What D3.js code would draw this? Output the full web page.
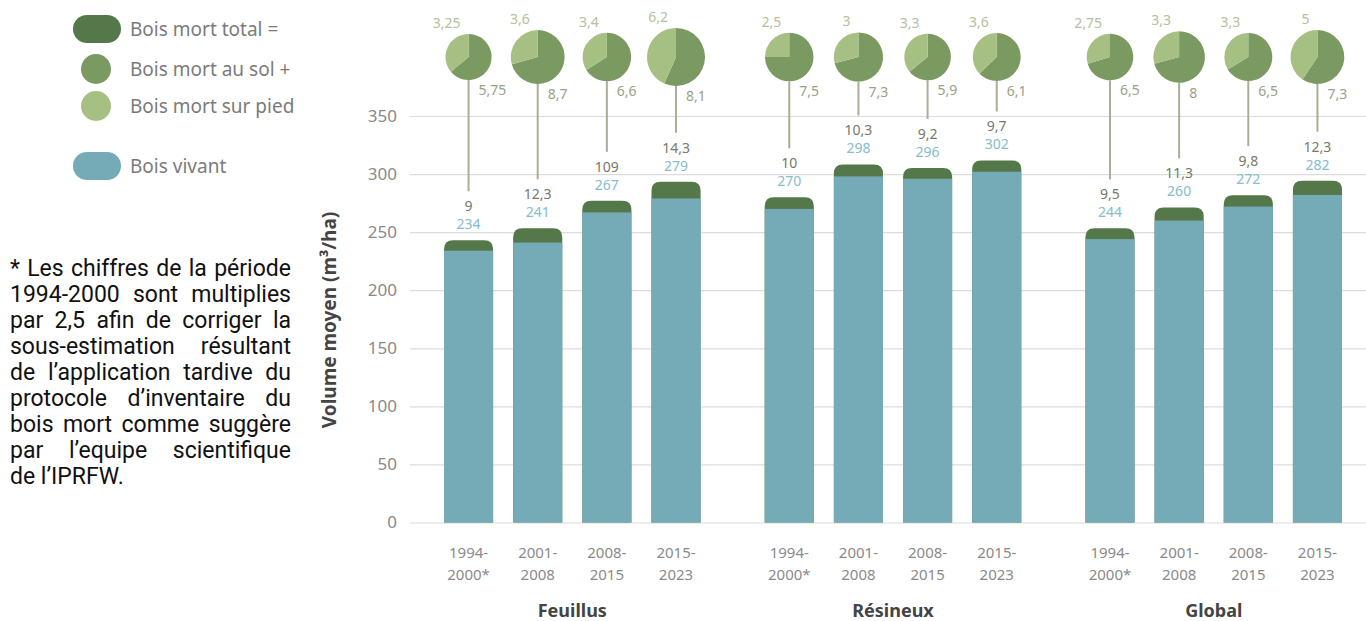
<!DOCTYPE html>
<html>
<head>
<meta charset="utf-8">
<script src="https://cdn.jsdelivr.net/npm/d3@7"></script>
<style>
  html, body { margin: 0; padding: 0; background: #fff; }
  svg { display: block; }
</style>
</head>
<body>
<svg id="chart" width="1366" height="621"></svg>
<script>
// ---- Data ----
const groups = ["Feuillus", "Résineux", "Global"];
const periodLine1 = ["1994-", "2001-", "2008-", "2015-"];
const periodLine2 = ["2000*", "2008", "2015", "2023"];

const feuillusVivant = [234, 241, 267, 279];
const resineuxVivant = [270, 298, 296, 302];
const globalVivant   = [244, 260, 272, 282];

const feuillusSurPied = [3.25, 3.6, 3.4, 6.2];
const resineuxSurPied = [2.5, 3, 3.3, 3.6];
const globalSurPied   = [2.75, 3.3, 3.3, 5];

const feuillusAuSol = [5.75, 8.7, 6.6, 8.1];
const resineuxAuSol = [7.5, 7.3, 5.9, 6.1];
const globalAuSol   = [6.5, 8, 6.5, 7.3];

const feuillusTotalLabels = ["9", "12,3", "109", "14,3"];
const resineuxTotalLabels = ["10", "10,3", "9,2", "9,7"];
const globalTotalLabels   = ["9,5", "11,3", "9,8", "12,3"];

const yTicks = [0, 50, 100, 150, 200, 250, 300, 350];

const legendLabels = ["Bois mort total =", "Bois mort au sol +", "Bois mort sur pied", "Bois vivant"];

const footnoteLines = [
  "* Les chiffres de la période",
  "1994-2000 sont multiplies",
  "par 2,5 afin de corriger la",
  "sous-estimation résultant",
  "de l’application tardive du",
  "protocole d’inventaire du",
  "bois mort comme suggère",
  "par l’equipe scientifique",
  "de l’IPRFW."
];

// ---- Build table ----
const vivantByGroup = [feuillusVivant, resineuxVivant, globalVivant];
const piedByGroup = [feuillusSurPied, resineuxSurPied, globalSurPied];
const solByGroup = [feuillusAuSol, resineuxAuSol, globalAuSol];
const totalLabelsByGroup = [feuillusTotalLabels, resineuxTotalLabels, globalTotalLabels];
const rows = [];
groups.forEach((g, gi) => {
  periodLine1.forEach((p, pi) => {
    const pied = piedByGroup[gi][pi], sol = solByGroup[gi][pi];
    rows.push({
      group: g, pi, vivant: vivantByGroup[gi][pi], pied, sol, mort: pied + sol,
      totalLabel: totalLabelsByGroup[gi][pi]
    });
  });
});

// ---- Styles ----
const C = {
  vivant: "#74abb6",
  mortTotal: "#55784a",
  sol: "#7b9a62",
  pied: "#a6bf82",
  grid: "#dcdcdc",
  tick: "#8a8a8a",
  dark: "#444",
  vivantLbl: "#86bccb",
  mortLbl: "#77786a",
  piedLbl: "#b3c19a",
  solLbl: "#98a287",
  conn: "#a9ae98",
  legendTxt: "#7b7b7b"
};
const FONT = "'Noto Sans', 'Open Sans', sans-serif";

const svg = d3.select("#chart");

// ---- Scales ----
const y = d3.scaleLinear().domain([0, 350]).range([522.5, 116]);
const x0 = d3.scaleBand().domain(groups).range([444, 1342]).paddingInner(0.2).paddingOuter(0);
const x1 = d3.scaleBand().domain(d3.range(periodLine1.length)).range([0, x0.bandwidth()]).paddingInner(0.29);
const rScale = d3.scaleSqrt().domain([0, 14.3]).range([0, 29]);

// ---- Y axis with gridlines ----
const axisX = 410;
const yAxis = d3.axisLeft(y).tickValues(yTicks).tickSizeInner(-(1366 - axisX)).tickSizeOuter(0).tickPadding(13);
const gy = svg.append("g").attr("transform", `translate(${axisX},0)`).call(yAxis);
gy.select(".domain").remove();
gy.selectAll(".tick line").attr("stroke", C.grid).attr("stroke-width", 1.2);
gy.selectAll(".tick text").attr("fill", C.tick).style("font-family", FONT).style("font-size", "17px");

// Y title
svg.append("text")
  .attr("transform", `translate(336,320) rotate(-90)`)
  .attr("text-anchor", "middle")
  .style("font-family", FONT).style("font-size", "19px").style("font-weight", "bold")
  .attr("fill", C.dark)
  .text("Volume moyen (m³/ha)");

// ---- Bars ----
const barX = d => x0(d.group) + x1(d.pi);
const bw = x1.bandwidth();
const rad = 9;
function roundTop(x, yTop, w, yBot, r) {
  return `M${x},${yBot}V${yTop + r}Q${x},${yTop} ${x + r},${yTop}H${x + w - r}Q${x + w},${yTop} ${x + w},${yTop + r}V${yBot}Z`;
}
const bars = svg.append("g").selectAll("g").data(rows).join("g");
bars.append("path")
  .attr("d", d => roundTop(barX(d), y(d.vivant + d.mort), bw, y(0), rad))
  .attr("fill", C.mortTotal);
bars.append("rect")
  .attr("x", d => barX(d)).attr("width", bw)
  .attr("y", d => y(d.vivant)).attr("height", d => y(0) - y(d.vivant))
  .attr("fill", C.vivant);

// Value labels above bars
bars.append("text")
  .attr("x", d => barX(d) + bw / 2)
  .attr("y", d => y(d.vivant + d.mort) - 16)
  .attr("dy", "0.35em").attr("text-anchor", "middle")
  .style("font-family", FONT).style("font-size", "14px")
  .attr("fill", C.vivantLbl)
  .text(d => d.vivant);
bars.append("text")
  .attr("x", d => barX(d) + bw / 2)
  .attr("y", d => y(d.vivant + d.mort) - 34)
  .attr("dy", "0.35em").attr("text-anchor", "middle")
  .style("font-family", FONT).style("font-size", "14px")
  .attr("fill", C.mortLbl)
  .text(d => d.totalLabel);

// ---- Pies ----
const pieCY = 57;
const pie = d3.pie().sort(null).value(v => v);
const arc = d3.arc().innerRadius(0);
const pies = svg.append("g").selectAll("g").data(rows).join("g")
  .attr("transform", d => `translate(${barX(d) + bw / 2},${pieCY})`);
// connector
pies.append("line")
  .attr("x1", 0).attr("x2", 0)
  .attr("y1", d => rScale(d.mort))
  .attr("y2", d => y(d.vivant + d.mort) - 49 - pieCY)
  .attr("stroke", C.conn).attr("stroke-width", 2);
pies.each(function (d) {
  const r = rScale(d.mort);
  const g = d3.select(this);
  g.selectAll("path").data(pie([d.sol, d.pied])).join("path")
    .attr("d", a => arc.outerRadius(r)(a))
    .attr("fill", (a, i) => i === 0 ? C.sol : C.pied);
  g.append("text")
    .attr("x", -8).attr("y", -r - 6).attr("text-anchor", "end")
    .style("font-family", FONT).style("font-size", "14px").attr("fill", C.piedLbl)
    .text(String(d.pied).replace(".", ","));
  g.append("text")
    .attr("x", 10).attr("y", r + 10).attr("dy", "0.35em").attr("text-anchor", "start")
    .style("font-family", FONT).style("font-size", "14px").attr("fill", C.solLbl)
    .text(String(d.sol).replace(".", ","));
});

// ---- X labels ----
const xl = svg.append("g").selectAll("g").data(rows).join("g")
  .attr("transform", d => `translate(${barX(d) + bw / 2},0)`);
xl.append("text").attr("y", 553).attr("dy", "0.35em").attr("text-anchor", "middle")
  .style("font-family", FONT).style("font-size", "15px").attr("fill", C.tick)
  .text(d => periodLine1[d.pi]);
xl.append("text").attr("y", 575).attr("dy", "0.35em").attr("text-anchor", "middle")
  .style("font-family", FONT).style("font-size", "15px").attr("fill", C.tick)
  .text(d => periodLine2[d.pi]);
svg.append("g").selectAll("text").data(groups).join("text")
  .attr("x", g => x0(g) + x0.bandwidth() / 2).attr("y", 611).attr("dy", "0.35em")
  .attr("text-anchor", "middle")
  .style("font-family", FONT).style("font-size", "18px").style("font-weight", "bold")
  .attr("fill", C.dark)
  .text(g => g);

// ---- Legend ----
const lg = svg.append("g");
const legendY = [29, 69, 106, 166];
const legendShapes = [
  {type: "pill", color: C.mortTotal},
  {type: "circle", color: C.sol},
  {type: "circle", color: C.pied},
  {type: "pill", color: C.vivant}
];
legendShapes.forEach((s, i) => {
  if (s.type === "pill") {
    lg.append("rect").attr("x", 73).attr("y", legendY[i] - 14).attr("width", 48).attr("height", 28)
      .attr("rx", 14).attr("fill", s.color);
  } else {
    lg.append("circle").attr("cx", 96).attr("cy", legendY[i]).attr("r", 15).attr("fill", s.color);
  }
  lg.append("text").attr("x", 130).attr("y", legendY[i]).attr("dy", "0.35em")
    .style("font-family", FONT).style("font-size", "19px").attr("fill", C.legendTxt)
    .text(legendLabels[i]);
});

// ---- Footnote (justified) ----
const fn = svg.append("g");
const fnLeft = 10, fnRight = 291, fnTop = 276, fnLH = 26;
footnoteLines.forEach((line, li) => {
  const words = line.split(" ");
  const yy = fnTop + li * fnLH;
  const last = li === footnoteLines.length - 1;
  const nodes = words.map(w => fn.append("text").attr("y", yy)
    .style("font-family", "Roboto, sans-serif").style("font-size", "23px").attr("fill", "#111").text(w));
  const widths = nodes.map(n => n.node().getComputedTextLength());
  const total = d3.sum(widths);
  const spaceW = 5.7;
  const gap = (last || words.length < 2) ? spaceW : (fnRight - fnLeft - total) / (words.length - 1);
  let cx = fnLeft;
  nodes.forEach((n, i) => { n.attr("x", cx); cx += widths[i] + gap; });
});
</script>
</body>
</html>
